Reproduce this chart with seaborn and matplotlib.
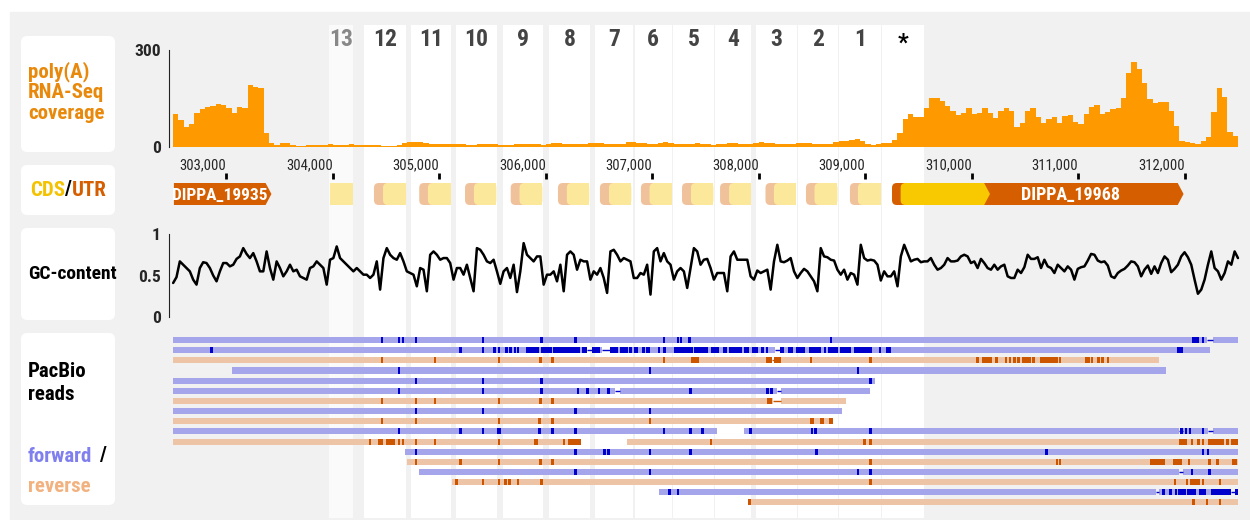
import matplotlib.pyplot as plt
from matplotlib.patches import FancyBboxPatch, Rectangle, Polygon
import numpy as np
import seaborn as sns

# ---------------------------------------------------------------- data
tick_pos = [303000, 304000, 305000, 306000, 307000, 308000, 309000, 310000, 311000, 312000]

# poly(A) RNA-Seq coverage in 50 bp bins starting at 302,500
cov_bin_start = 302500
cov_bin_size = 50
coverage = [
    102, 84, 61, 71, 104, 116, 125, 127, 133, 129, 120, 104, 125, 120, 192, 185, 181, 42, 11, 5,
    11, 13, 5, 4, 3, 6, 6, 6, 7, 8, 5, 5, 6, 8, 7, 6, 6, 6, 5, 4, 4, 4, 5, 13, 16,
    16, 15, 12, 10, 9, 8, 8, 9, 10, 8, 7, 7, 8, 10, 9, 8, 7, 6, 7, 8,
    9, 10, 9, 8, 7, 9, 11, 12, 10, 9, 8, 8, 10, 12, 13, 11, 9, 8, 8, 10,
    14, 15, 13, 12, 10, 9, 11, 14, 12, 10, 9, 8, 9, 11, 10, 8, 7, 8, 10, 12,
    11, 9, 8, 9, 12, 14, 13, 11, 9, 8, 9, 10, 12, 13, 11, 10, 9, 8, 10, 14, 18, 20,
    22, 24, 20, 9, 7, 8, 11, 11, 22, 42, 87, 101, 94, 92, 120, 153, 151, 142, 127, 111,
    98, 104, 120, 102, 106, 122, 106, 91, 110, 120, 112, 61, 73, 112, 120, 94, 75, 86, 92, 75,
    96, 99, 78, 71, 102, 123, 130, 102, 108, 116, 120, 151, 230, 264, 240, 197, 147, 137, 139, 140,
    112, 65, 20, 16, 13, 9, 20, 32, 109, 181, 156, 47, 34,
]

# GC-content, evenly spaced from 302,500 to 312,500
gc_start, gc_end = 302500, 312500
gc_content = [
    0.41, 0.48, 0.67, 0.63, 0.59, 0.55, 0.45, 0.39, 0.59, 0.66,
    0.65, 0.59, 0.50, 0.43, 0.55, 0.65, 0.65, 0.61, 0.63, 0.70,
    0.73, 0.83, 0.76, 0.71, 0.77, 0.67, 0.55, 0.55, 0.79, 0.59,
    0.45, 0.67, 0.59, 0.49, 0.55, 0.63, 0.55, 0.57, 0.49, 0.47,
    0.45, 0.59, 0.61, 0.67, 0.63, 0.59, 0.39, 0.69, 0.71, 0.85,
    0.71, 0.67, 0.63, 0.59, 0.55, 0.59, 0.55, 0.51, 0.51, 0.47,
    0.51, 0.67, 0.33, 0.71, 0.83, 0.75, 0.71, 0.69, 0.77, 0.67,
    0.55, 0.53, 0.51, 0.37, 0.59, 0.57, 0.31, 0.75, 0.79, 0.75,
    0.69, 0.71, 0.71, 0.65, 0.45, 0.59, 0.59, 0.51, 0.63, 0.47,
    0.31, 0.83, 0.81, 0.75, 0.67, 0.65, 0.69, 0.55, 0.40, 0.55,
    0.59, 0.47, 0.63, 0.30, 0.55, 0.89, 0.75, 0.71, 0.67, 0.73,
    0.73, 0.39, 0.51, 0.51, 0.55, 0.43, 0.63, 0.31, 0.75, 0.79,
    0.75, 0.57, 0.69, 0.67, 0.67, 0.45, 0.55, 0.51, 0.59, 0.47,
    0.29, 0.79, 0.81, 0.75, 0.67, 0.71, 0.69, 0.67, 0.47, 0.47,
    0.53, 0.51, 0.63, 0.27, 0.79, 0.83, 0.67, 0.77, 0.67, 0.63,
    0.45, 0.55, 0.59, 0.55, 0.35, 0.59, 0.83, 0.79, 0.63, 0.69,
    0.70, 0.59, 0.45, 0.53, 0.53, 0.53, 0.31, 0.73, 0.79, 0.69,
    0.69, 0.69, 0.69, 0.49, 0.45, 0.56, 0.53, 0.55, 0.57, 0.33,
    0.67, 0.87, 0.67, 0.66, 0.68, 0.71, 0.55, 0.47, 0.53, 0.58,
    0.55, 0.49, 0.43, 0.31, 0.83, 0.73, 0.72, 0.69, 0.68, 0.57,
    0.51, 0.57, 0.45, 0.53, 0.51, 0.39, 0.87, 0.71, 0.68, 0.69,
    0.68, 0.63, 0.44, 0.55, 0.49, 0.49, 0.55, 0.37, 0.73, 0.87,
    0.77, 0.67, 0.69, 0.70, 0.66, 0.67, 0.67, 0.71, 0.63, 0.57,
    0.59, 0.63, 0.71, 0.67, 0.67, 0.68, 0.73, 0.75, 0.73, 0.65,
    0.67, 0.59, 0.70, 0.65, 0.59, 0.57, 0.63, 0.57, 0.61, 0.63,
    0.49, 0.47, 0.47, 0.57, 0.53, 0.60, 0.75, 0.70, 0.70, 0.72,
    0.59, 0.69, 0.61, 0.59, 0.53, 0.63, 0.59, 0.55, 0.61, 0.57,
    0.45, 0.58, 0.60, 0.61, 0.68, 0.76, 0.75, 0.68, 0.66, 0.67,
    0.62, 0.49, 0.47, 0.53, 0.56, 0.58, 0.62, 0.67, 0.66, 0.61,
    0.49, 0.57, 0.62, 0.52, 0.61, 0.53, 0.65, 0.73, 0.69, 0.54,
    0.58, 0.63, 0.73, 0.78, 0.72, 0.63, 0.45, 0.28, 0.33, 0.45,
    0.63, 0.79, 0.59, 0.55, 0.45, 0.53, 0.67, 0.63, 0.79, 0.71,
]

# repeat units (columns), 13 .. 1 and the '*' unit
repeat_labels = ["13", "12", "11", "10", "9", "8", "7", "6", "5", "4", "3", "2", "1", "*"]
col_start = [303964, 304292, 304734, 305156, 305598, 306029, 306461, 306833, 307194,
             307593, 307974, 308368, 308753, 309157]
col_end = [304189, 304687, 305109, 305541, 305973, 306414, 306818, 307185, 307579,
           307927, 308359, 308744, 309147, 309551]
# UTR start, CDS start, CDS end of the repeat units 13..1
utr_start = [303969, 304386, 304811, 305241, 305670, 306114, 306508, 306893, 307279,
             307636, 308063, 308443, 308856]
cds_start = [303969, 304471, 304893, 305325, 305753, 306197, 306593, 306974, 307363,
             307721, 308142, 308523, 308931]
cds_end = [304188, 304687, 305106, 305536, 305968, 306408, 306803, 307184, 307574,
           307927, 308349, 308739, 309147]

gene_names = ["DIPPA_19935", "DIPPA_19968"]
gene_start = [302507, 309251]
gene_end = [303423, 311989]
star_cds = (309332, 310171)

# PacBio reads (kb): strand, aligned pieces, thin links, single mismatches, mismatch blocks
read_strand = ["F", "F", "R", "F", "F", "F", "R", "F", "R", "F", "R", "F", "R", "F", "R", "F", "R"]
read_pieces = [
    [(302.50, 312.21), (312.27, 312.50)],
    [(302.50, 306.39), (306.43, 306.53), (306.60, 308.15), (308.20, 312.24)],
    [(302.50, 308.12), (308.15, 311.76)],
    [(303.05, 311.82)],
    [(302.50, 309.09)],
    [(302.50, 306.65), (306.70, 308.17), (308.21, 309.04)],
    [(302.50, 308.13), (308.21, 308.82)],
    [(302.50, 308.78)],
    [(302.50, 308.70)],
    [(302.50, 307.61), (307.86, 311.95), (311.98, 312.22), (312.27, 312.50)],
    [(302.50, 306.33), (306.76, 312.50)],
    [(304.68, 312.50)],
    [(304.70, 312.50)],
    [(304.81, 311.95), (311.98, 312.50)],
    [(305.12, 312.50)],
    [(307.06, 311.73), (311.76, 312.43), (312.47, 312.50)],
    [(307.90, 312.50)],
]
read_links = [
    [(312.21, 312.27)],
    [(306.39, 306.43), (306.53, 306.60), (308.15, 308.20)],
    [(308.12, 308.15)],
    [], [],
    [(306.65, 306.70), (308.17, 308.21)],
    [(308.13, 308.21)],
    [], [],
    [(311.95, 311.98), (312.22, 312.27)],
    [], [], [],
    [(311.95, 311.98)],
    [],
    [(311.73, 311.76), (312.43, 312.47)],
    [],
]
read_marks = [
    [304.46, 304.62, 304.66, 304.78, 305.41, 305.96, 306.28, 307.11, 307.24, 307.27, 307.35, 308.68, 312.17],
    [302.86, 305.20, 305.41, 305.52, 305.56, 305.63, 305.67, 305.71, 305.74, 309.14],
    [304.46, 304.96, 305.56, 305.95, 306.06, 307.11, 308.08, 308.11, 308.49, 309.05, 310.23, 310.32,
     310.36, 310.40, 310.44, 310.58, 310.83, 311.13, 311.19, 311.23, 311.28],
    [304.62, 306.98, 308.93],
    [304.78, 305.41, 305.96, 309.05],
    [304.62, 305.41, 305.96, 306.30, 306.39, 306.50, 306.59, 307.36, 308.08, 308.12],
    [304.46, 304.78, 304.96, 305.56, 305.95, 306.06],
    [304.78, 305.41, 306.28, 306.98],
    [304.46, 304.78, 305.56, 305.94, 306.06, 306.98],
    [304.62, 305.20, 305.41, 305.94, 306.06, 306.28, 307.11, 307.36, 307.47, 307.92, 308.50, 308.53,
     309.05, 311.97, 312.01, 312.05, 312.17],
    [304.35, 304.62, 304.66, 304.78, 304.96, 305.56, 306.17, 307.55, 309.05, 312.07, 312.13, 312.17, 312.40],
    [304.78, 306.28, 306.55, 306.59, 306.98, 307.36, 308.54, 310.70, 312.17, 312.22],
    [304.78, 305.20, 305.56, 305.95, 306.06, 309.05, 310.80, 310.83, 312.04, 312.23, 312.31],
    [306.28, 306.98, 308.93, 309.05, 312.07, 312.23],
    [305.16, 305.41, 305.56, 305.62, 305.66, 305.74, 305.96, 309.05, 311.91, 312.02, 312.17, 312.33],
    [307.16, 307.24, 312.00],
    [307.91, 312.08, 312.21, 312.33],
]
read_blocks = [
    [(312.07, 312.13)],
    [(305.81, 305.94), (305.95, 306.06), (306.07, 306.32), (306.34, 306.39), (306.43, 306.51),
     (306.60, 306.68), (306.70, 306.77), (306.78, 306.81), (306.83, 306.87), (306.90, 306.93),
     (306.94, 306.98), (307.05, 307.07), (307.10, 307.13), (307.20, 307.38), (307.39, 307.52),
     (307.55, 307.63), (307.66, 307.70), (307.72, 307.84), (307.86, 307.91), (307.94, 307.99),
     (308.02, 308.05), (308.07, 308.09), (308.20, 308.24), (308.27, 308.32), (308.35, 308.43),
     (308.47, 308.58), (308.61, 308.63), (308.65, 308.74), (308.76, 308.87), (308.89, 309.06),
     (309.19, 309.24), (311.93, 311.98)],
    [(307.36, 307.44), (308.14, 308.21), (310.04, 310.07), (310.10, 310.19), (310.47, 310.56),
     (310.64, 310.81), (311.06, 311.11)],
    [], [], [],
    [(308.08, 308.12)],
    [],
    [(308.48, 308.52), (308.57, 308.61), (308.66, 308.70)],
    [(305.54, 305.58)],
    [(304.42, 304.47), (304.50, 304.58), (305.89, 305.93), (306.21, 306.33), (308.98, 309.01),
     (311.95, 312.02), (312.22, 312.37), (312.43, 312.50)],
    [],
    [(311.67, 311.81), (311.89, 311.97), (312.44, 312.49)],
    [],
    [(312.05, 312.14)],
    [(311.79, 311.81), (311.85, 311.88), (311.91, 311.93), (311.94, 311.99), (312.02, 312.11),
     (312.13, 312.20), (312.25, 312.43), (312.47, 312.50)],
    [],
]

# ---------------------------------------------------------------- style
W, H = 1250, 520
X0, X1 = 169, 1240
XLIM = (302461, 312519)
BP_PER_PX = (XLIM[1] - XLIM[0]) / (X1 - X0)

PANEL = "#f1f1f1"
ORANGE = "#ff9900"
GENE = "#d55e00"
STAR_CDS = "#f8c800"
PALE_CDS = "#fce89b"
PALE_UTR = "#efc29c"
FWD, FWD_DARK = "#a5a5ec", "#0000cc"
REV, REV_DARK = "#edc4a6", "#cc5500"

sns.set_style("white")
plt.rcParams["font.family"] = ["Roboto Condensed", "DejaVu Sans"]


def rect(x0, y0, x1, y1):
    return [x0 / W, 1 - y1 / H, (x1 - x0) / W, (y1 - y0) / H]


fig = plt.figure(figsize=(W / 100, H / 100), dpi=100)
fig.add_artist(Rectangle((10 / W, 0), 1 - 10 / W, 1 - 12 / H, transform=fig.transFigure,
                         color=PANEL, zorder=-3))

# white label boxes
for y0, y1 in [(36, 152), (165, 215), (228, 320), (333, 505)]:
    fig.add_artist(FancyBboxPatch((21 / W, 1 - y1 / H), 94 / W, (y1 - y0) / H,
                                  boxstyle="round,pad=0,rounding_size=0.005",
                                  mutation_aspect=W / H, transform=fig.transFigure,
                                  fc="white", ec="none", zorder=-2))

lab = dict(fontsize=15, weight="bold", va="center", ha="left")
fig.text(28 / W, 1 - 92 / H, "poly(A)\nRNA-Seq\ncoverage", color="#e8890c", linespacing=1.1, **lab)
fig.text(30 / W, 1 - 190 / H, "CDS", color="#f5c200", **lab)
fig.text(64 / W, 1 - 190 / H, "/", color="black", **lab)
fig.text(72 / W, 1 - 190 / H, "UTR", color=GENE, **lab)
fig.text(28 / W, 1 - 274 / H, "GC-content", color="black", **dict(lab, fontsize=14))
fig.text(28 / W, 1 - 383 / H, "PacBio\nreads", color="black", linespacing=1.3, **lab)
fig.text(28 / W, 1 - 456 / H, "forward", color="#7f7fee", **lab)
fig.text(99 / W, 1 - 456 / H, "/", color="black", **lab)
fig.text(28 / W, 1 - 486 / H, "reverse", color="#f2b27f", **lab)

# repeat-unit columns
ax_bg = fig.add_axes(rect(X0, 0, X1, H))
ax_bg.set_zorder(-1)
ax_bg.set_xlim(XLIM)
ax_bg.set_ylim(H, 0)
ax_bg.axis("off")
for i, name in enumerate(repeat_labels):
    face = "#fafafa" if name == "13" else "white"
    ax_bg.axvspan(col_start[i], col_end[i], ymin=2 / H, ymax=1 - 25 / H, color=face, lw=0)
    color = "#888888" if name == "13" else ("black" if name == "*" else "#444444")
    ax_bg.text((col_start[i] + col_end[i]) / 2, 43 if name == "*" else 40, name,
               ha="center", va="center", fontsize=17, weight="bold", color=color)

# coverage track
ax_cov = fig.add_axes(rect(X0, 50, X1, 147))
ax_cov.set_facecolor("none")
edges = cov_bin_start + cov_bin_size * np.arange(len(coverage) + 1)
ax_cov.stairs(coverage, edges, fill=True, color=ORANGE, lw=0)
ax_cov.set_xlim(XLIM)
ax_cov.set_ylim(0, 300)
for s in ["top", "right", "bottom"]:
    ax_cov.spines[s].set_visible(False)
ax_cov.spines["left"].set_color("#222222")
ax_cov.set_yticks([0, 300], labels=["0", "300"])
ax_cov.tick_params(axis="y", length=4, width=1, labelsize=12.5, pad=2)
ax_cov.set_xticks(tick_pos, labels=[f"{t:,}" for t in tick_pos])
ax_cov.tick_params(axis="x", length=0, pad=8, labelsize=10.5)
for t in ax_cov.get_xticklabels():
    t.set_ha("right")
for t in ax_cov.get_yticklabels():
    t.set_weight("bold")

# CDS / UTR track
ax_cds = fig.add_axes(rect(X0, 173, X1, 215))
ax_cds.set_facecolor("none")
ax_cds.set_xlim(XLIM)
ax_cds.set_ylim(42, 0)
for s in ax_cds.spines.values():
    s.set_visible(False)
ax_cds.set_yticks([])
ax_cds.set_xticks(tick_pos)
ax_cds.tick_params(axis="x", top=True, bottom=False, labeltop=False, labelbottom=False,
                   direction="in", length=4, width=2, color="black")
Y0, Y1 = 10, 32
YM = (Y0 + Y1) / 2
TIP = 55


def rbox(x0, x1, color, r=45):
    ax_cds.add_patch(FancyBboxPatch((x0, Y0), x1 - x0, Y1 - Y0,
                                    boxstyle=f"round,pad=0,rounding_size={r}",
                                    mutation_aspect=1 / BP_PER_PX, fc=color, ec="none"))


def arrow(x0, x1, color):
    ax_cds.add_patch(Polygon([(x0, Y0), (x1 - TIP, Y0), (x1, YM), (x1 - TIP, Y1), (x0, Y1)],
                             closed=True, fc=color, ec="none"))


for u0, c0, c1 in zip(utr_start, cds_start, cds_end):
    if c0 > u0:
        rbox(u0, c0 + 120, PALE_UTR)
        rbox(c0, c1, PALE_CDS)
        ax_cds.add_patch(Rectangle(((c0 + c1) / 2, Y0), (c1 - c0) / 2, Y1 - Y0, fc=PALE_CDS, ec="none"))
    else:
        ax_cds.add_patch(Rectangle((c0, Y0), c1 - c0, Y1 - Y0, fc=PALE_CDS, ec="none"))

arrow(gene_start[0], gene_end[0], GENE)
rbox(gene_start[1], gene_start[1] + 300, GENE)
arrow(gene_start[1] + 100, gene_end[1], GENE)
rbox(star_cds[0], star_cds[0] + 300, STAR_CDS)
arrow(star_cds[0] + 100, star_cds[1], STAR_CDS)
txt = dict(color="white", weight="bold", fontsize=12.5, ha="center", va="center")
ax_cds.text((gene_start[0] + gene_end[0] - TIP) / 2, YM + 1, gene_names[0], **txt)
ax_cds.text((star_cds[1] + gene_end[1]) / 2 - 150, YM + 1, gene_names[1], **dict(txt, fontsize=13))

# GC-content track
ax_gc = fig.add_axes(rect(X0, 234, X1, 317))
ax_gc.set_facecolor("none")
gc_pos = np.linspace(gc_start, gc_end, len(gc_content))
sns.lineplot(x=gc_pos, y=gc_content, color="black", lw=1.8, ax=ax_gc)
ax_gc.set_xlim(XLIM)
ax_gc.set_ylim(0, 1)
for s in ["top", "right", "bottom"]:
    ax_gc.spines[s].set_visible(False)
ax_gc.spines["left"].set_color("#222222")
ax_gc.set_xticks([])
ax_gc.set_yticks([0, 0.5, 1], labels=["0", "0.5", "1"])
ax_gc.tick_params(axis="y", length=4, width=1, labelsize=12.5, pad=2)
for t in ax_gc.get_yticklabels():
    t.set_weight("bold")

# PacBio reads
ax_r = fig.add_axes(rect(X0, 335, X1, 507.5))
ax_r.set_facecolor("none")
ax_r.set_xlim(XLIM)
ax_r.set_ylim(len(read_strand) - 0.5, -0.5)
ax_r.axis("off")
MARK_W = 0.024
for row, strand in enumerate(read_strand):
    light, dark = (FWD, FWD_DARK) if strand == "F" else (REV, REV_DARK)
    for s, e in read_pieces[row]:
        ax_r.barh(row, (e - s) * 1000, left=s * 1000, height=0.6, color=light, lw=0)
    for s, e in read_links[row]:
        ax_r.hlines(row, s * 1000, e * 1000, color=dark, lw=1)
    for s, e in read_blocks[row]:
        ax_r.barh(row, (e - s) * 1000, left=s * 1000, height=0.6, color=dark, lw=0)
    for m in read_marks[row]:
        ax_r.barh(row, MARK_W * 1000, left=(m - MARK_W / 2) * 1000, height=0.6, color=dark, lw=0)

fig.savefig("out.png", dpi=100, facecolor="white")
